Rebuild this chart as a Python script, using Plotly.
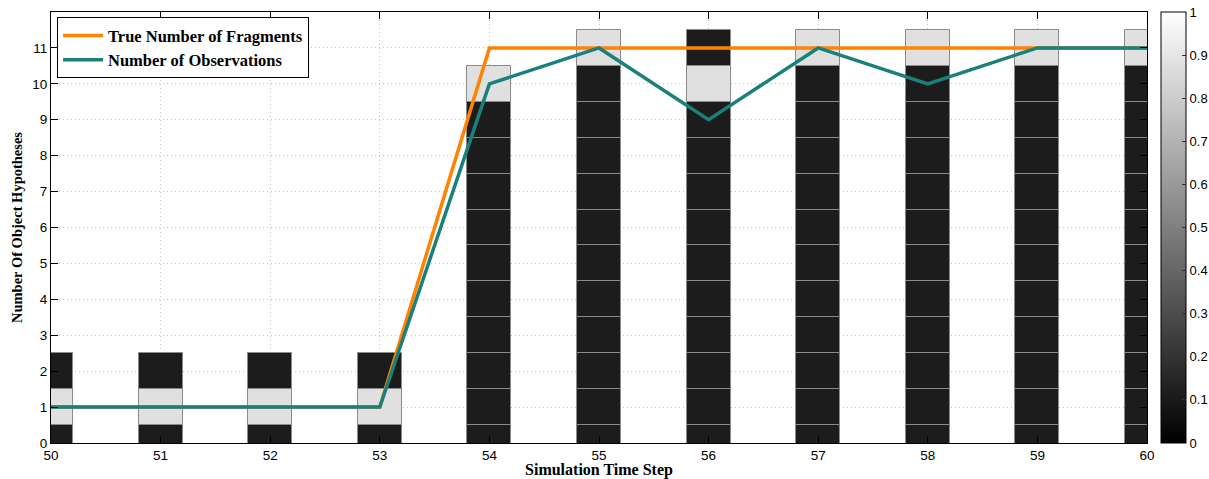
import plotly.graph_objects as go

# ---------------- data ----------------
time_steps = [50, 51, 52, 53, 54, 55, 56, 57, 58, 59, 60]
true_fragments = [1, 1, 1, 1, 11, 11, 11, 11, 11, 11, 11]
observations = [1, 1, 1, 1, 10, 11, 9, 11, 10, 11, 11]
hypotheses = list(range(12))  # number of object hypotheses 0..11
colorbar_ticks = [0, 0.1, 0.2, 0.3, 0.4, 0.5, 0.6, 0.7, 0.8, 0.9, 1]
colorbar_labels = ["0", "0.1", "0.2", "0.3", "0.4", "0.5", "0.6", "0.7", "0.8", "0.9", "1"]

# probability of each hypothesis count per time step (None = not considered)
D, L = 0.11, 0.88
prob_50 = [D, L, D] + [None] * 9
prob_51 = [D, L, D] + [None] * 9
prob_52 = [D, L, D] + [None] * 9
prob_53 = [D, L, D] + [None] * 9
prob_54 = [D] * 10 + [L, None]
prob_55 = [D] * 11 + [L]
prob_56 = [D] * 10 + [L, D]
prob_57 = [D] * 11 + [L]
prob_58 = [D] * 11 + [L]
prob_59 = [D] * 11 + [L]
prob_60 = [D] * 11 + [L]
prob_table = [prob_50, prob_51, prob_52, prob_53, prob_54, prob_55,
              prob_56, prob_57, prob_58, prob_59, prob_60]

fig = go.Figure()

gray_scale = [[0, "#000000"], [1, "#ffffff"]]
for h in hypotheses:
    xs, cs = [], []
    for t, col in zip(time_steps, prob_table):
        if col[h] is not None:
            xs.append(t)
            cs.append(col[h])
    if not xs:
        continue
    show_cb = (h == 0)
    fig.add_trace(go.Bar(
        x=xs, y=[1] * len(xs), base=h - 0.5, width=0.4,
        marker=dict(color=cs, colorscale=gray_scale, cmin=0, cmax=1,
                    line=dict(color="#8a8a8a", width=1),
                    showscale=show_cb,
                    colorbar=dict(
                        x=(1161 - 51) / 1096, xanchor="left", xpad=0,
                        y=0, yanchor="bottom", ypad=0, len=1, lenmode="fraction",
                        thickness=25, outlinecolor="black", outlinewidth=1,
                        tickvals=colorbar_ticks, ticktext=colorbar_labels,
                        ticks="inside", ticklen=4, tickcolor="#333",
                        tickfont=dict(family="Liberation Sans", size=13, color="black"),
                    ) if show_cb else None),
        showlegend=False, hoverinfo="skip",
    ))

fig.add_trace(go.Scatter(
    x=time_steps, y=true_fragments, mode="lines",
    name="True Number of Fragments",
    line=dict(color="#ff8200", width=3.5),
))
fig.add_trace(go.Scatter(
    x=time_steps, y=observations, mode="lines",
    name="Number of Observations",
    line=dict(color="#1b807c", width=3.5),
))

axis_font = dict(family="Liberation Sans", size=13.5, color="black")

fig.update_layout(
    width=1209, height=479,
    margin=dict(l=51, r=62, t=12, b=36, autoexpand=False),
    paper_bgcolor="white", plot_bgcolor="white",
    barmode="overlay", bargap=0,
    legend=dict(
        x=0.0055, y=0.988, xanchor="left", yanchor="top",
        bgcolor="white", bordercolor="black", borderwidth=1,
        font=dict(family="Liberation Serif", size=16.5, color="black", weight="bold"),
        tracegroupgap=0, itemwidth=40,
    ),
    xaxis=dict(
        range=[50, 60], tickvals=time_steps, ticks="inside", ticklen=7,
        tickcolor="black", showline=True, linecolor="black", linewidth=1, mirror="ticks",
        showgrid=True, gridcolor="#c4c4c4", griddash="1px,3px", gridwidth=1,
        zeroline=False, tickfont=axis_font,
        title=dict(text="Simulation Time Step",
                   font=dict(family="Liberation Serif", size=16, color="black", weight="bold"),
                   standoff=0),
    ),
    yaxis=dict(
        range=[0, 12], tickvals=hypotheses, ticks="inside", ticklen=7,
        tickcolor="black", showline=True, linecolor="black", linewidth=1, mirror="ticks",
        showgrid=True, gridcolor="#c4c4c4", griddash="1px,3px", gridwidth=1,
        zeroline=False, tickfont=axis_font,
        title=dict(text="Number Of Object Hypotheses",
                   font=dict(family="Liberation Serif", size=14.5, color="black", weight="bold"),
                   standoff=6),
    ),
)

fig.write_html("out.html")
